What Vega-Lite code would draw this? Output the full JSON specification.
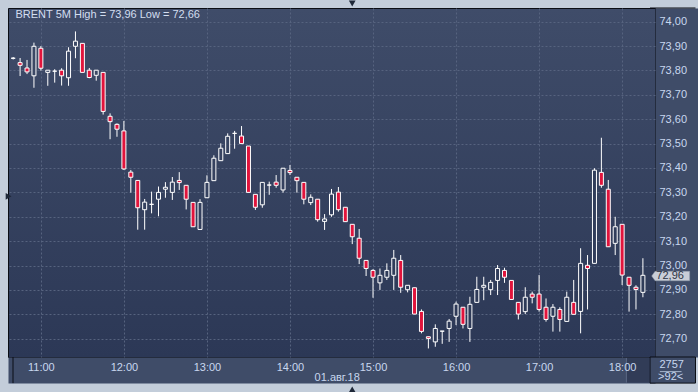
{
  "$schema": "https://vega.github.io/schema/vega-lite/v6.json",
  "width": 647,
  "height": 349,
  "autosize": {"type": "none"},
  "padding": {"left": 8, "top": 8, "right": 43, "bottom": 35},
  "background": "#c3cdda",
  "config": {
    "view": {
      "stroke": "#0a0d14",
      "strokeWidth": 1,
      "fill": {"gradient": "linear", "x1": 0, "y1": 0, "x2": 0, "y2": 1, "stops": [{"offset": 0, "color": "#3f4c69"}, {"offset": 1, "color": "#2c3856"}]}
    },
    "font": "Liberation Sans Narrow, Liberation Sans, Arial, sans-serif"
  },
  "resolve": {"axis": {"x": "independent", "y": "independent"}},
  "data": {
    "values": [
      {"t": "2018-08-01T10:40", "o": 73.85, "h": 73.855, "l": 73.845, "c": 73.85},
      {"t": "2018-08-01T10:45", "o": 73.832, "h": 73.851, "l": 73.777, "c": 73.821},
      {"t": "2018-08-01T10:50", "o": 73.81, "h": 73.843, "l": 73.785, "c": 73.794},
      {"t": "2018-08-01T10:55", "o": 73.778, "h": 73.914, "l": 73.729, "c": 73.899},
      {"t": "2018-08-01T11:00", "o": 73.891, "h": 73.9, "l": 73.799, "c": 73.809},
      {"t": "2018-08-01T11:05", "o": 73.792, "h": 73.801, "l": 73.737, "c": 73.801},
      {"t": "2018-08-01T11:10", "o": 73.797, "h": 73.805, "l": 73.75, "c": 73.797},
      {"t": "2018-08-01T11:15", "o": 73.801, "h": 73.809, "l": 73.738, "c": 73.778},
      {"t": "2018-08-01T11:20", "o": 73.77, "h": 73.895, "l": 73.737, "c": 73.879},
      {"t": "2018-08-01T11:25", "o": 73.899, "h": 73.96, "l": 73.85, "c": 73.92},
      {"t": "2018-08-01T11:30", "o": 73.911, "h": 73.911, "l": 73.792, "c": 73.792},
      {"t": "2018-08-01T11:35", "o": 73.801, "h": 73.81, "l": 73.768, "c": 73.771},
      {"t": "2018-08-01T11:40", "o": 73.78, "h": 73.801, "l": 73.758, "c": 73.801},
      {"t": "2018-08-01T11:45", "o": 73.792, "h": 73.792, "l": 73.619, "c": 73.632},
      {"t": "2018-08-01T11:50", "o": 73.612, "h": 73.624, "l": 73.518, "c": 73.59},
      {"t": "2018-08-01T11:55", "o": 73.579, "h": 73.583, "l": 73.528, "c": 73.559},
      {"t": "2018-08-01T12:00", "o": 73.552, "h": 73.593, "l": 73.392, "c": 73.396},
      {"t": "2018-08-01T12:05", "o": 73.383, "h": 73.392, "l": 73.299, "c": 73.362},
      {"t": "2018-08-01T12:10", "o": 73.349, "h": 73.349, "l": 73.147, "c": 73.237},
      {"t": "2018-08-01T12:15", "o": 73.229, "h": 73.273, "l": 73.147, "c": 73.26},
      {"t": "2018-08-01T12:20", "o": 73.251, "h": 73.303, "l": 73.214, "c": 73.251},
      {"t": "2018-08-01T12:25", "o": 73.272, "h": 73.324, "l": 73.202, "c": 73.3},
      {"t": "2018-08-01T12:30", "o": 73.313, "h": 73.342, "l": 73.278, "c": 73.321},
      {"t": "2018-08-01T12:35", "o": 73.3, "h": 73.363, "l": 73.269, "c": 73.342},
      {"t": "2018-08-01T12:40", "o": 73.349, "h": 73.383, "l": 73.31, "c": 73.34},
      {"t": "2018-08-01T12:45", "o": 73.329, "h": 73.329, "l": 73.23, "c": 73.272},
      {"t": "2018-08-01T12:50", "o": 73.259, "h": 73.259, "l": 73.159, "c": 73.159},
      {"t": "2018-08-01T12:55", "o": 73.148, "h": 73.272, "l": 73.148, "c": 73.259},
      {"t": "2018-08-01T13:00", "o": 73.278, "h": 73.37, "l": 73.278, "c": 73.341},
      {"t": "2018-08-01T13:05", "o": 73.348, "h": 73.452, "l": 73.348, "c": 73.44},
      {"t": "2018-08-01T13:10", "o": 73.43, "h": 73.501, "l": 73.43, "c": 73.481},
      {"t": "2018-08-01T13:15", "o": 73.459, "h": 73.542, "l": 73.459, "c": 73.53},
      {"t": "2018-08-01T13:20", "o": 73.542, "h": 73.552, "l": 73.479, "c": 73.542},
      {"t": "2018-08-01T13:25", "o": 73.531, "h": 73.572, "l": 73.5, "c": 73.5},
      {"t": "2018-08-01T13:30", "o": 73.49, "h": 73.49, "l": 73.3, "c": 73.3},
      {"t": "2018-08-01T13:35", "o": 73.292, "h": 73.292, "l": 73.228, "c": 73.239},
      {"t": "2018-08-01T13:40", "o": 73.249, "h": 73.341, "l": 73.237, "c": 73.341},
      {"t": "2018-08-01T13:45", "o": 73.33, "h": 73.344, "l": 73.29, "c": 73.33},
      {"t": "2018-08-01T13:50", "o": 73.342, "h": 73.371, "l": 73.319, "c": 73.329},
      {"t": "2018-08-01T13:55", "o": 73.31, "h": 73.399, "l": 73.299, "c": 73.399},
      {"t": "2018-08-01T14:00", "o": 73.39, "h": 73.412, "l": 73.371, "c": 73.381},
      {"t": "2018-08-01T14:05", "o": 73.362, "h": 73.362, "l": 73.299, "c": 73.348},
      {"t": "2018-08-01T14:10", "o": 73.341, "h": 73.341, "l": 73.251, "c": 73.272},
      {"t": "2018-08-01T14:15", "o": 73.258, "h": 73.292, "l": 73.248, "c": 73.28},
      {"t": "2018-08-01T14:20", "o": 73.272, "h": 73.272, "l": 73.18, "c": 73.188},
      {"t": "2018-08-01T14:25", "o": 73.181, "h": 73.211, "l": 73.146, "c": 73.191},
      {"t": "2018-08-01T14:30", "o": 73.208, "h": 73.314, "l": 73.2, "c": 73.293},
      {"t": "2018-08-01T14:35", "o": 73.301, "h": 73.322, "l": 73.221, "c": 73.229},
      {"t": "2018-08-01T14:40", "o": 73.239, "h": 73.239, "l": 73.18, "c": 73.18},
      {"t": "2018-08-01T14:45", "o": 73.169, "h": 73.169, "l": 73.088, "c": 73.118},
      {"t": "2018-08-01T14:50", "o": 73.112, "h": 73.15, "l": 73.006, "c": 73.03},
      {"t": "2018-08-01T14:55", "o": 73.021, "h": 73.021, "l": 72.957, "c": 72.988},
      {"t": "2018-08-01T15:00", "o": 72.98, "h": 72.985, "l": 72.868, "c": 72.952},
      {"t": "2018-08-01T15:05", "o": 72.929, "h": 72.988, "l": 72.9, "c": 72.96},
      {"t": "2018-08-01T15:10", "o": 72.952, "h": 73.009, "l": 72.941, "c": 72.98},
      {"t": "2018-08-01T15:15", "o": 72.96, "h": 73.064, "l": 72.9, "c": 73.03},
      {"t": "2018-08-01T15:20", "o": 73.021, "h": 73.043, "l": 72.888, "c": 72.911},
      {"t": "2018-08-01T15:25", "o": 72.901, "h": 72.919, "l": 72.89, "c": 72.919},
      {"t": "2018-08-01T15:30", "o": 72.909, "h": 72.909, "l": 72.801, "c": 72.801},
      {"t": "2018-08-01T15:35", "o": 72.812, "h": 72.82, "l": 72.722, "c": 72.73},
      {"t": "2018-08-01T15:40", "o": 72.708, "h": 72.708, "l": 72.66, "c": 72.701},
      {"t": "2018-08-01T15:45", "o": 72.687, "h": 72.759, "l": 72.667, "c": 72.742},
      {"t": "2018-08-01T15:50", "o": 72.731, "h": 72.731, "l": 72.679, "c": 72.731},
      {"t": "2018-08-01T15:55", "o": 72.742, "h": 72.781, "l": 72.687, "c": 72.772},
      {"t": "2018-08-01T16:00", "o": 72.792, "h": 72.852, "l": 72.756, "c": 72.842},
      {"t": "2018-08-01T16:05", "o": 72.829, "h": 72.829, "l": 72.742, "c": 72.759},
      {"t": "2018-08-01T16:10", "o": 72.742, "h": 72.872, "l": 72.687, "c": 72.841},
      {"t": "2018-08-01T16:15", "o": 72.849, "h": 72.954, "l": 72.849, "c": 72.902},
      {"t": "2018-08-01T16:20", "o": 72.911, "h": 72.954, "l": 72.858, "c": 72.919},
      {"t": "2018-08-01T16:25", "o": 72.901, "h": 72.941, "l": 72.879, "c": 72.931},
      {"t": "2018-08-01T16:30", "o": 72.939, "h": 73.002, "l": 72.879, "c": 72.988},
      {"t": "2018-08-01T16:35", "o": 72.98, "h": 72.991, "l": 72.929, "c": 72.952},
      {"t": "2018-08-01T16:40", "o": 72.939, "h": 72.939, "l": 72.861, "c": 72.861},
      {"t": "2018-08-01T16:45", "o": 72.849, "h": 72.849, "l": 72.779, "c": 72.801},
      {"t": "2018-08-01T16:50", "o": 72.811, "h": 72.911, "l": 72.801, "c": 72.87},
      {"t": "2018-08-01T16:55", "o": 72.883, "h": 72.893, "l": 72.845, "c": 72.87},
      {"t": "2018-08-01T17:00", "o": 72.883, "h": 72.961, "l": 72.811, "c": 72.82},
      {"t": "2018-08-01T17:05", "o": 72.829, "h": 72.865, "l": 72.77, "c": 72.779},
      {"t": "2018-08-01T17:10", "o": 72.792, "h": 72.842, "l": 72.729, "c": 72.829},
      {"t": "2018-08-01T17:15", "o": 72.82, "h": 72.829, "l": 72.729, "c": 72.779},
      {"t": "2018-08-01T17:20", "o": 72.771, "h": 72.893, "l": 72.771, "c": 72.87},
      {"t": "2018-08-01T17:25", "o": 72.849, "h": 72.941, "l": 72.8, "c": 72.8},
      {"t": "2018-08-01T17:30", "o": 72.812, "h": 73.071, "l": 72.722, "c": 73.009},
      {"t": "2018-08-01T17:35", "o": 73.001, "h": 73.043, "l": 72.82, "c": 72.988},
      {"t": "2018-08-01T17:40", "o": 73.009, "h": 73.399, "l": 73.009, "c": 73.391},
      {"t": "2018-08-01T17:45", "o": 73.382, "h": 73.524, "l": 73.319, "c": 73.329},
      {"t": "2018-08-01T17:50", "o": 73.313, "h": 73.351, "l": 73.077, "c": 73.077},
      {"t": "2018-08-01T17:55", "o": 73.091, "h": 73.2, "l": 73.043, "c": 73.159},
      {"t": "2018-08-01T18:00", "o": 73.169, "h": 73.169, "l": 72.92, "c": 72.961},
      {"t": "2018-08-01T18:05", "o": 72.952, "h": 72.952, "l": 72.811, "c": 72.919},
      {"t": "2018-08-01T18:10", "o": 72.911, "h": 72.919, "l": 72.82, "c": 72.902},
      {"t": "2018-08-01T18:15", "o": 72.89, "h": 73.03, "l": 72.87, "c": 72.96}
    ]
  },
  "layer": [
    {
      "mark": {"type": "rule", "color": "#ffffff", "strokeWidth": 1, "clip": true},
      "encoding": {
        "x": {
          "field": "t", "type": "temporal",
          "scale": {"domain": [{"year": 2018, "month": 8, "date": 1, "hours": 10, "minutes": 39, "seconds": 52}, {"year": 2018, "month": 8, "date": 1, "hours": 18, "minutes": 20, "seconds": 8}]},
          "axis": {
            "orient": "bottom",
            "values": [
              {"year": 2018, "month": 8, "date": 1, "hours": 11},
              {"year": 2018, "month": 8, "date": 1, "hours": 12},
              {"year": 2018, "month": 8, "date": 1, "hours": 13},
              {"year": 2018, "month": 8, "date": 1, "hours": 14},
              {"year": 2018, "month": 8, "date": 1, "hours": 15},
              {"year": 2018, "month": 8, "date": 1, "hours": 16},
              {"year": 2018, "month": 8, "date": 1, "hours": 17},
              {"year": 2018, "month": 8, "date": 1, "hours": 18}
            ],
            "title": null,
            "labels": false,
            "grid": true, "gridColor": "#56637f", "gridDash": [2, 2], "gridWidth": 1,
            "ticks": false, "tickSize": 0,
            "domain": true, "domainColor": "#3f4c68", "domainWidth": 26,
            "offset": 13,
            "zindex": 0
          }
        },
        "y": {
          "field": "l", "type": "quantitative",
          "scale": {"domain": [72.625, 74.056], "zero": false, "nice": false},
          "axis": {
            "orient": "right",
            "values": [72.7, 72.8, 72.9, 73, 73.1, 73.2, 73.3, 73.4, 73.5, 73.6, 73.7, 73.8, 73.9, 74],
            "title": null,
            "labels": false,
            "grid": true, "gridColor": "#56637f", "gridDash": [2, 2], "gridWidth": 1,
            "ticks": false, "tickSize": 0,
            "domain": true, "domainColor": "#3f4c68", "domainWidth": 43,
            "offset": 21.5,
            "zindex": 0
          }
        },
        "y2": {"field": "h"}
      }
    },
    {
      "mark": {"type": "bar", "size": 4, "stroke": "#ffffff", "strokeWidth": 1, "clip": true, "orient": "vertical"},
      "encoding": {
        "x": {
          "field": "t", "type": "temporal",
          "axis": {
            "orient": "bottom",
            "values": [
              {"year": 2018, "month": 8, "date": 1, "hours": 11},
              {"year": 2018, "month": 8, "date": 1, "hours": 12},
              {"year": 2018, "month": 8, "date": 1, "hours": 13},
              {"year": 2018, "month": 8, "date": 1, "hours": 14},
              {"year": 2018, "month": 8, "date": 1, "hours": 15},
              {"year": 2018, "month": 8, "date": 1, "hours": 16},
              {"year": 2018, "month": 8, "date": 1, "hours": 17},
              {"year": 2018, "month": 8, "date": 1, "hours": 18}
            ],
            "format": "%H:%M",
            "title": "01.авг.18",
            "grid": false, "ticks": false, "tickSize": 0, "domain": false,
            "labelPadding": 4,
            "labelColor": "#c8d7ef", "labelFontSize": 11, "labelFlush": false, "labelOverlap": false,
            "labelFont": "Liberation Sans Narrow, Liberation Sans, Arial, sans-serif",
            "titleX": 328.7, "titleY": 23, "titleBaseline": "alphabetic", "titleAlign": "center",
            "titleColor": "#c8d7ef", "titleFontSize": 11, "titleFontWeight": "normal",
            "titleFont": "Liberation Sans Narrow, Liberation Sans, Arial, sans-serif",
            "zindex": 1
          }
        },
        "y": {
          "field": "o", "type": "quantitative",
          "axis": {
            "orient": "right",
            "values": [72.7, 72.8, 72.9, 73, 73.1, 73.2, 73.3, 73.4, 73.5, 73.6, 73.7, 73.8, 73.9, 74],
            "labelExpr": "replace(format(datum.value, '.2f'), '.', ',')",
            "title": null,
            "grid": false, "ticks": false, "tickSize": 0, "domain": false,
            "labelPadding": 4,
            "labelColor": "#c8d7ef", "labelFontSize": 11, "labelFlush": false, "labelOverlap": false,
            "labelFont": "Liberation Sans Narrow, Liberation Sans, Arial, sans-serif",
            "zindex": 1
          }
        },
        "y2": {"field": "c"},
        "fill": {
          "condition": {"test": "datum.c < datum.o", "value": "#e1143c"},
          "field": "o", "type": "quantitative",
          "scale": {"domain": [72.625, 74.056], "range": ["#2c3856", "#3f4c69"]},
          "legend": null
        }
      }
    },
    {
      "data": {"values": [{}]},
      "mark": {"type": "rect", "fill": "#3f4c68", "stroke": "#0a0d14", "strokeWidth": 1},
      "encoding": {
        "x": {"datum": {"year": 2018, "month": 8, "date": 1, "hours": 18, "minutes": 20, "seconds": 8}, "type": "temporal", "axis": null},
        "x2": {"datum": {"year": 2018, "month": 8, "date": 1, "hours": 18, "minutes": 53}},
        "y": {"datum": 72.625, "type": "quantitative", "axis": null},
        "y2": {"datum": 72.518}
      }
    },
    {
      "data": {"values": [{}]},
      "mark": {"type": "rect", "fill": "#28324c", "opacity": 0.6},
      "encoding": {
        "x": {"datum": {"year": 2018, "month": 8, "date": 1, "hours": 18, "minutes": 3, "seconds": 4}, "type": "temporal", "axis": null},
        "x2": {"datum": {"year": 2018, "month": 8, "date": 1, "hours": 18, "minutes": 20, "seconds": 8}},
        "y": {"datum": 72.621, "type": "quantitative", "axis": null},
        "y2": {"datum": 72.52}
      }
    },
    {
      "data": {"values": [{}]},
      "mark": {"type": "rule", "color": "#5c6884", "strokeWidth": 1},
      "encoding": {
        "x": {"datum": {"year": 2018, "month": 8, "date": 1, "hours": 18, "minutes": 3, "seconds": 4}, "type": "temporal", "axis": null},
        "y": {"datum": 72.621, "type": "quantitative", "axis": null},
        "y2": {"datum": 72.52}
      }
    },
    {
      "data": {"values": [{}]},
      "mark": {"type": "rule", "color": "#0a0d14", "strokeWidth": 1},
      "encoding": {
        "x": {"datum": {"year": 2018, "month": 8, "date": 1, "hours": 10, "minutes": 39, "seconds": 52}, "type": "temporal", "axis": null},
        "y": {"datum": 72.625, "type": "quantitative", "axis": null},
        "y2": {"datum": 72.518}
      }
    },
    {
      "data": {"values": [{}]},
      "mark": {"type": "rule", "color": "#0a0d14", "strokeWidth": 1},
      "encoding": {
        "x": {"datum": {"year": 2018, "month": 8, "date": 1, "hours": 18, "minutes": 20, "seconds": 8}, "type": "temporal", "axis": null},
        "x2": {"datum": {"year": 2018, "month": 8, "date": 1, "hours": 18, "minutes": 53}},
        "y": {"datum": 74.056, "type": "quantitative", "axis": null}
      }
    },
    {
      "data": {"values": [{}]},
      "mark": {"type": "text", "align": "left", "baseline": "alphabetic", "dx": 2.5, "dy": 10.3, "fontSize": 11, "color": "#d3def0"},
      "encoding": {
        "x": {"datum": {"year": 2018, "month": 8, "date": 1, "hours": 10, "minutes": 39, "seconds": 52}, "type": "temporal", "axis": null},
        "y": {"datum": 74.056, "type": "quantitative", "axis": null},
        "text": {"datum": "BRENT 5M High = 73,96 Low = 72,66"}
      }
    },
    {
      "data": {"values": [{}]},
      "mark": {"type": "point", "filled": true, "fill": "#c9ced8", "stroke": "#8d96a6", "strokeWidth": 0.5, "opacity": 1, "size": 1444, "shape": "M-1,0L-0.82,-0.25L1,-0.25L1,0.25L-0.82,0.25Z"},
      "encoding": {
        "x": {"datum": {"year": 2018, "month": 8, "date": 1, "hours": 18, "minutes": 35, "seconds": 4}, "type": "temporal", "axis": null},
        "y": {"datum": 72.957, "type": "quantitative", "axis": null}
      }
    },
    {
      "data": {"values": [{}]},
      "mark": {"type": "text", "align": "left", "baseline": "middle", "dx": -14.3, "fontSize": 11, "color": "#2d3444"},
      "encoding": {
        "x": {"datum": {"year": 2018, "month": 8, "date": 1, "hours": 18, "minutes": 35, "seconds": 4}, "type": "temporal", "axis": null},
        "y": {"datum": 72.957, "type": "quantitative", "axis": null},
        "text": {"datum": "72,96"}
      }
    },
    {
      "data": {"values": [{}]},
      "mark": {"type": "text", "align": "center", "baseline": "middle", "fontSize": 11, "color": "#c8d7ef"},
      "encoding": {
        "x": {"datum": {"year": 2018, "month": 8, "date": 1, "hours": 18, "minutes": 35, "seconds": 46}, "type": "temporal", "axis": null},
        "y": {"datum": 72.592, "type": "quantitative", "axis": null},
        "text": {"datum": "2757"}
      }
    },
    {
      "data": {"values": [{}]},
      "mark": {"type": "text", "align": "center", "baseline": "middle", "fontSize": 11, "color": "#c8d7ef"},
      "encoding": {
        "x": {"datum": {"year": 2018, "month": 8, "date": 1, "hours": 18, "minutes": 35, "seconds": 4}, "type": "temporal", "axis": null},
        "y": {"datum": 72.543, "type": "quantitative", "axis": null},
        "text": {"datum": ">92<"}
      }
    },
    {
      "data": {"values": [{}]},
      "mark": {"type": "rule", "color": "#a9b8cf", "strokeWidth": 1},
      "encoding": {
        "x": {"datum": {"year": 2018, "month": 8, "date": 1, "hours": 18, "minutes": 27, "seconds": 16}, "type": "temporal", "axis": null},
        "x2": {"datum": {"year": 2018, "month": 8, "date": 1, "hours": 18, "minutes": 42, "seconds": 55}},
        "y": {"datum": 72.565, "type": "quantitative", "axis": null}
      }
    },
    {
      "data": {"values": [{}]},
      "mark": {"type": "point", "shape": "triangle-down", "filled": true, "color": "#1e2838", "opacity": 1, "size": 45},
      "encoding": {
        "x": {"datum": {"year": 2018, "month": 8, "date": 1, "hours": 14, "minutes": 44, "seconds": 58}, "type": "temporal", "axis": null},
        "y": {"datum": 74.0745, "type": "quantitative", "axis": null}
      }
    },
    {
      "data": {"values": [{}]},
      "mark": {"type": "point", "shape": "triangle-up", "filled": true, "color": "#1e2838", "opacity": 1, "size": 45},
      "encoding": {
        "x": {"datum": {"year": 2018, "month": 8, "date": 1, "hours": 14, "minutes": 44, "seconds": 58}, "type": "temporal", "axis": null},
        "y": {"datum": 72.492, "type": "quantitative", "axis": null}
      }
    },
    {
      "data": {"values": [{}]},
      "mark": {"type": "point", "shape": "triangle-right", "filled": true, "color": "#1e2838", "opacity": 1, "size": 45},
      "encoding": {
        "x": {"datum": {"year": 2018, "month": 8, "date": 1, "hours": 10, "minutes": 36, "seconds": 40}, "type": "temporal", "axis": null},
        "y": {"datum": 73.284, "type": "quantitative", "axis": null}
      }
    }
  ]
}
